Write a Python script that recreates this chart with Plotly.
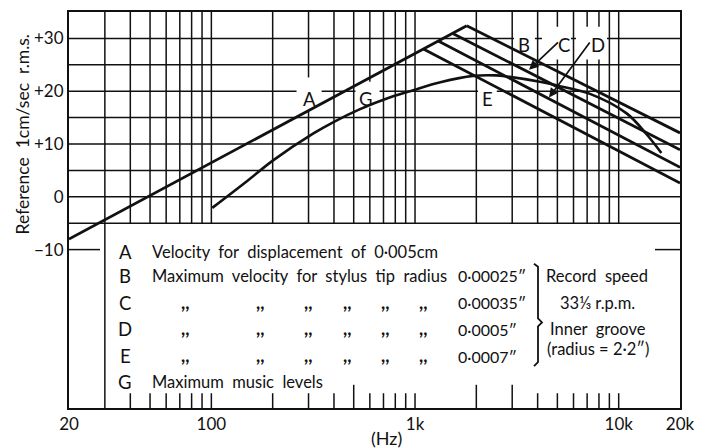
import math
import plotly.graph_objects as go

# ---------------- data ----------------
FREQ_A = [20, 1794]
DB_A = [-8.0, 32.4]
FREQ_B = [1794, 20000]
DB_B = [32.4, 12.1]
FREQ_C = [1541, 20000]
DB_C = [30.9, 8.9]
FREQ_D = [1301, 20000]
DB_D = [29.5, 5.6]
FREQ_E = [1099, 20000]
DB_E = [28.0, 2.6]
FREQ_G = [101, 150, 201, 317, 400, 537, 750, 980, 1332, 1930, 2500, 2820, 4100, 4950, 7230, 10940, 13730, 16200]
DB_G = [-2.1, 3.0, 6.9, 12.0, 14.2, 16.6, 18.8, 20.2, 21.7, 22.9, 23.0, 22.8, 21.8, 21.1, 19.5, 15.8, 11.8, 8.3]

X_TICKS = [20, 100, 1000, 10000, 20000]
X_TICK_TEXT = ["20", "100", "1k", "10k", "20k"]
Y_TICKS = [30, 20, 10, 0, -10]
Y_TICK_TEXT = ["+30", "+20", "+10", "0", "\u221210"]

H_GRID = [30, 25, 20, 15, 10, 5, 0, -5]
V_GRID = [40, 50, 60, 70, 80, 90, 100, 200, 300, 400, 500, 600, 700, 800, 900,
          1000, 2000, 3000, 4000, 5000, 6000, 7000, 8000, 9000, 10000]
V_FULL = [30]
TALL_TICKS = [500, 2000, 3000]

# label masks (freq range, dB range)
MASKS = [
    ([262, 348], [16.2, 22.6]),     # A
    ([510, 670], [16.9, 21.8]),     # G
    ([2040, 2520], [16.2, 21.4]),   # E
    ([3060, 3880], [26.0, 31.6]),   # B
    ([4200, 5830], [26.0, 32.2]),   # C
    ([6170, 8760], [26.0, 32.2]),   # D
]

FONT = "Lato, 'Noto Sans', sans-serif"
INK = "#111111"

fig = go.Figure()

# grid as one trace
gx, gy = [], []
for lv in H_GRID:
    gx += [20, 20000, None]
    gy += [lv, lv, None]
for f in V_GRID:
    gx += [f, f, None]
    gy += [-5, 35, None]
for f in V_FULL:
    gx += [f, f, None]
    gy += [-40, 35, None]
for f in V_GRID:
    top = -35.6 if f in TALL_TICKS else -37.2
    gx += [f, f, None]
    gy += [-40, top, None]
gx += [20, 28.4, None, 15070, 20000, None]
gy += [-10, -10, None, -10, -10, None]
fig.add_trace(go.Scatter(x=gx, y=gy, mode="lines", line=dict(color=INK, width=1.5),
                         hoverinfo="skip", showlegend=False))

for (fr, dr) in MASKS:
    fig.add_trace(go.Scatter(x=[fr[0], fr[1], fr[1], fr[0], fr[0]],
                             y=[dr[0], dr[0], dr[1], dr[1], dr[0]],
                             fill="toself", fillcolor="white", mode="lines",
                             line=dict(width=0, color="white"),
                             hoverinfo="skip", showlegend=False))

for fx, dy in [(FREQ_A, DB_A), (FREQ_B, DB_B), (FREQ_C, DB_C), (FREQ_D, DB_D), (FREQ_E, DB_E)]:
    fig.add_trace(go.Scatter(x=fx, y=dy, mode="lines", line=dict(color=INK, width=2.8),
                             showlegend=False))
fig.add_trace(go.Scatter(x=FREQ_G, y=DB_G, mode="lines",
                         line=dict(color=INK, width=2.6, shape="spline", smoothing=1.0),
                         showlegend=False))

# ---------------- text ----------------
L, T, PW, PH = 69, 10, 611, 398


def P(xp, yp):
    return (xp - L) / PW, (T + PH - yp) / PH


ann = []


def text(xp, yp, s, size=16.5, xanchor="center"):
    px_, py_ = P(xp, yp)
    ann.append(dict(x=px_, y=py_, xref="paper", yref="paper", text=s, showarrow=False,
                    xanchor=xanchor, yanchor="middle", font=dict(family=FONT, size=size, color=INK)))


# curve letters
for xp, yp, s in [(309, 97, "A"), (366, 97, "G"), (487, 97, "E"),
                  (524, 43, "B"), (564, 43, "C"), (598, 43, "D")]:
    text(xp, yp, s, size=18.5)

# arrows for C and D
for tip, tail in [((3629, 24.07), (5120, 29.5)), ((4548, 18.79), (7300, 29.5))]:
    ann.append(dict(x=math.log10(tip[0]), y=tip[1], ax=math.log10(tail[0]), ay=tail[1],
                    xref="x", yref="y", axref="x", ayref="y", text="", showarrow=True,
                    arrowhead=2, arrowsize=1.1, arrowwidth=1.7, arrowcolor=INK, standoff=0))

# legend block
rows = [(251, "A"), (275, "B"), (302, "C"), (329, "D"), (356, "E"), (382, "G")]
for yp, s in rows:
    text(125, yp, s, size=18.5)
text(150, 251, "Velocity  for  displacement  of  0\u00b7005cm", xanchor="left")
text(150, 275, "Maximum  velocity  for  stylus  tip  radius", xanchor="left")
text(150, 382, "Maximum  music  levels", xanchor="left")
for yp in [302, 329, 356]:
    for xp in [185, 260, 308, 347, 385, 423]:
        text(xp, yp - 1, "<b>,,</b>", size=18)
for yp, s in [(275, "0\u00b700025\u2033"), (302, "0\u00b700035\u2033"),
              (329, "0\u00b70005\u2033"), (356, "0\u00b70007\u2033")]:
    text(456, yp, s, size=16, xanchor="left")
text(597, 275, "Record  speed")
text(597, 302, "33\u2153 r.p.m.")
text(598, 329, "Inner  groove")
text(598, 349, "(radius = 2\u00b72\u2033)")

# axis titles
text(386, 438, "(Hz)", size=18)
px_, py_ = P(22, 133)
ann.append(dict(x=px_, y=py_, xref="paper", yref="paper", text="Reference  1cm/sec  r.m.s.",
                showarrow=False, textangle=-90, xanchor="center", yanchor="middle",
                font=dict(family=FONT, size=17.5, color=INK)))

# brace
pts = [(534, 263), (538, 266), (538, 318), (542, 322), (538, 326), (538, 362), (534, 366)]
path = ""
for i, (xp, yp) in enumerate(pts):
    a, b = P(xp, yp)
    path += ("M" if i == 0 else "L") + f"{a:.5f},{b:.5f} "
shapes = [dict(type="path", path=path, xref="paper", yref="paper",
               line=dict(color=INK, width=1.8), layer="above")]

fig.update_layout(
    width=707, height=448,
    margin=dict(l=L, r=707 - L - PW, t=T, b=448 - T - PH),
    paper_bgcolor="white", plot_bgcolor="white",
    annotations=ann, shapes=shapes, showlegend=False,
    xaxis=dict(type="log", range=[math.log10(20), math.log10(20000)], showgrid=False,
               zeroline=False, showline=True, mirror=True, linecolor=INK, linewidth=2,
               tickvals=X_TICKS, ticktext=X_TICK_TEXT, ticks="",
               tickfont=dict(family=FONT, size=17, color=INK)),
    yaxis=dict(range=[-40, 35], showgrid=False, zeroline=False, showline=True, mirror=True,
               linecolor=INK, linewidth=2, tickvals=Y_TICKS, ticktext=Y_TICK_TEXT, ticks="",
               tickfont=dict(family=FONT, size=17, color=INK)),
)

fig.write_html("out.html")
